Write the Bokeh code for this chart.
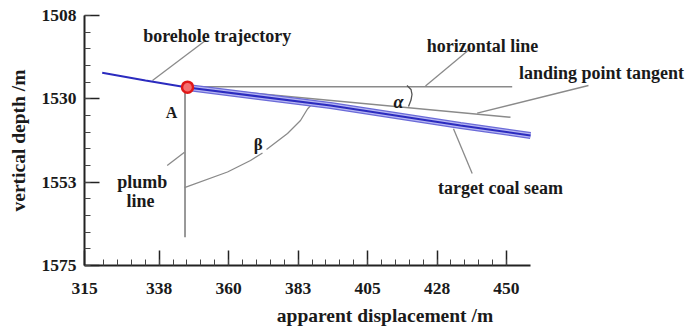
import numpy as np
from bokeh.plotting import figure
from bokeh.models import Range1d, FixedTicker, Label
from bokeh.embed import file_html
from bokeh.resources import INLINE

# ---- axis ticks ----
x_tick_values = [313.3, 337.5, 360.0, 382.5, 405.0, 427.5, 450.0]
x_tick_labels = ["315", "338", "360", "383", "405", "428", "450"]
y_tick_values = [1508.0, 1530.33, 1552.67, 1575.0]
y_tick_labels = ["1508", "1530", "1553", "1575"]
x_title = "apparent displacement /m"
y_title = "vertical depth /m"

# ---- data (apparent displacement, vertical depth) ----
traj_x = [319.03, 333.06, 346.67, 392.99, 435.10, 457.78]
traj_y = [1523.36, 1525.42, 1527.30, 1532.12, 1537.48, 1540.16]
seam_x = [346.67, 392.99, 435.10, 457.78]
seam_y = [1527.30, 1532.12, 1537.48, 1540.16]
point_a_x = [346.67]
point_a_y = [1527.2]
horiz_x = [346.67, 451.85]
horiz_y = [1527.1, 1527.1]
tangent_x = [346.67, 451.3]
tangent_y = [1527.2, 1535.26]
plumb_x = [345.86, 345.86]
plumb_y = [1527.3, 1567.42]
beta_x1 = [345.69, 359.62, 367.07, 370.96]
beta_y1 = [1554.10, 1549.94, 1546.86, 1544.85]
beta_x2 = [372.26, 379.06, 383.27, 385.54, 387.16]
beta_y2 = [1543.91, 1539.62, 1536.14, 1533.06, 1531.58]
alpha_x = [417.77, 419.07, 419.39, 419.07, 418.26]
alpha_y = [1526.76, 1527.83, 1529.17, 1530.65, 1532.39]
leader_xs = [[352.50, 335.33], [438.34, 423.76], [476.56, 440.51],
             [438.89, 432.83], [340.09, 345.69]]
leader_ys = [[1514.70, 1525.42], [1516.84, 1526.89], [1526.76, 1534.18],
             [1550.34, 1538.36], [1548.20, 1544.64]]

label_texts = ["borehole trajectory", "horizontal line", "target coal seam",
               "plumb", "line"]
label_x = [356.29, 442.23, 448.06, 331.99, 331.44]
label_y = [1513.36, 1516.04, 1554.36, 1552.68, 1557.69]
a_label = ("A", 341.48, 1534.0)
tangent_label = "landing point tangent"
tangent_label_x = 507.5
tangent_label_y = 1523.54
beta_label = ("β", 369.57, 1542.44)
alpha_label = ("α", 415.02, 1531.24)

FONT = "Liberation Serif"
TXT = "#1a1a1a"

p = figure(width=685, height=328, output_backend="svg", toolbar_location=None,
           x_range=Range1d(313.3, 507.99), y_range=Range1d(1575, 1508),
           min_border_left=84, min_border_right=0, min_border_top=15,
           min_border_bottom=63)
p.grid.visible = False
p.outline_line_color = None
p.background_fill_color = "white"
p.border_fill_color = "white"

x_minor = list(np.arange(319.5, 450.01, 4.5))
y_minor = list(np.linspace(1508, 1575, 16))
p.xaxis.ticker = FixedTicker(ticks=x_tick_values, minor_ticks=x_minor)
p.yaxis.ticker = FixedTicker(ticks=y_tick_values, minor_ticks=y_minor)
p.xaxis.major_label_overrides = dict(zip(x_tick_values, x_tick_labels))
p.yaxis.major_label_overrides = dict(zip(y_tick_values, y_tick_labels))
p.xaxis.bounds = (313.3, 457.8)

for ax in (p.xaxis, p.yaxis):
    ax.axis_line_color = "#222222"
    ax.axis_line_width = 2
    ax.major_tick_line_color = "#222222"
    ax.major_tick_line_width = 1.5
    ax.minor_tick_line_color = "#444444"
    ax.minor_tick_line_width = 1
    ax.major_tick_in = 15
    ax.major_tick_out = 0
    ax.minor_tick_in = 6
    ax.minor_tick_out = 0
    ax.major_label_text_font = FONT
    ax.major_label_text_font_style = "bold"
    ax.major_label_text_font_size = "17.5px"
    ax.major_label_text_color = TXT
    ax.axis_label_text_font = FONT
    ax.axis_label_text_font_style = "bold"
    ax.axis_label_text_font_size = "19.5px"
    ax.axis_label_text_color = TXT

p.xaxis.axis_label = x_title
p.yaxis.axis_label = y_title
p.xaxis.major_label_standoff = 17
p.xaxis.axis_label_standoff = 8
p.yaxis.major_label_standoff = 8
p.yaxis.axis_label_standoff = 10

GRAY = "#8a8a8a"
# annotation lines
p.line(horiz_x, horiz_y, line_color=GRAY, line_width=1.5)
p.line(tangent_x, tangent_y, line_color=GRAY, line_width=1.5)
p.line(plumb_x, plumb_y, line_color="#777777", line_width=1.5)
p.line(beta_x1, beta_y1, line_color=GRAY, line_width=1.3)
p.line(beta_x2, beta_y2, line_color=GRAY, line_width=1.3)
p.line(alpha_x, alpha_y, line_color="#555555", line_width=1.3)
p.multi_line(leader_xs, leader_ys, line_color=GRAY, line_width=1.3)

# coal seam band and trajectory
p.line(seam_x, seam_y, line_color="#6a6ad8", line_width=7)
p.line(seam_x, seam_y, line_color="#b6b6f2", line_width=4.5)
p.line(traj_x, traj_y, line_color="#2b2bbf", line_width=2)

# landing point A
p.scatter(point_a_x, point_a_y, size=11, fill_color="#f47070",
          line_color="#e01818", line_width=2.5)

def add_text(t, x, y, size, align="center", style="bold"):
    p.add_layout(Label(x=x, y=y, text=t, text_align=align,
                       text_baseline="alphabetic", text_font=FONT,
                       text_font_style=style, text_font_size=size,
                       text_color=TXT))

for t, x, y in zip(label_texts, label_x, label_y):
    add_text(t, x, y, "18px")
add_text(a_label[0], a_label[1], a_label[2], "16px")
add_text(tangent_label, tangent_label_x, tangent_label_y, "18px", align="right")
add_text(beta_label[0], beta_label[1], beta_label[2], "17px")
add_text(alpha_label[0], alpha_label[1], alpha_label[2], "18px",
         style="bold italic")

open("out.html", "w").write(file_html(p, INLINE))
